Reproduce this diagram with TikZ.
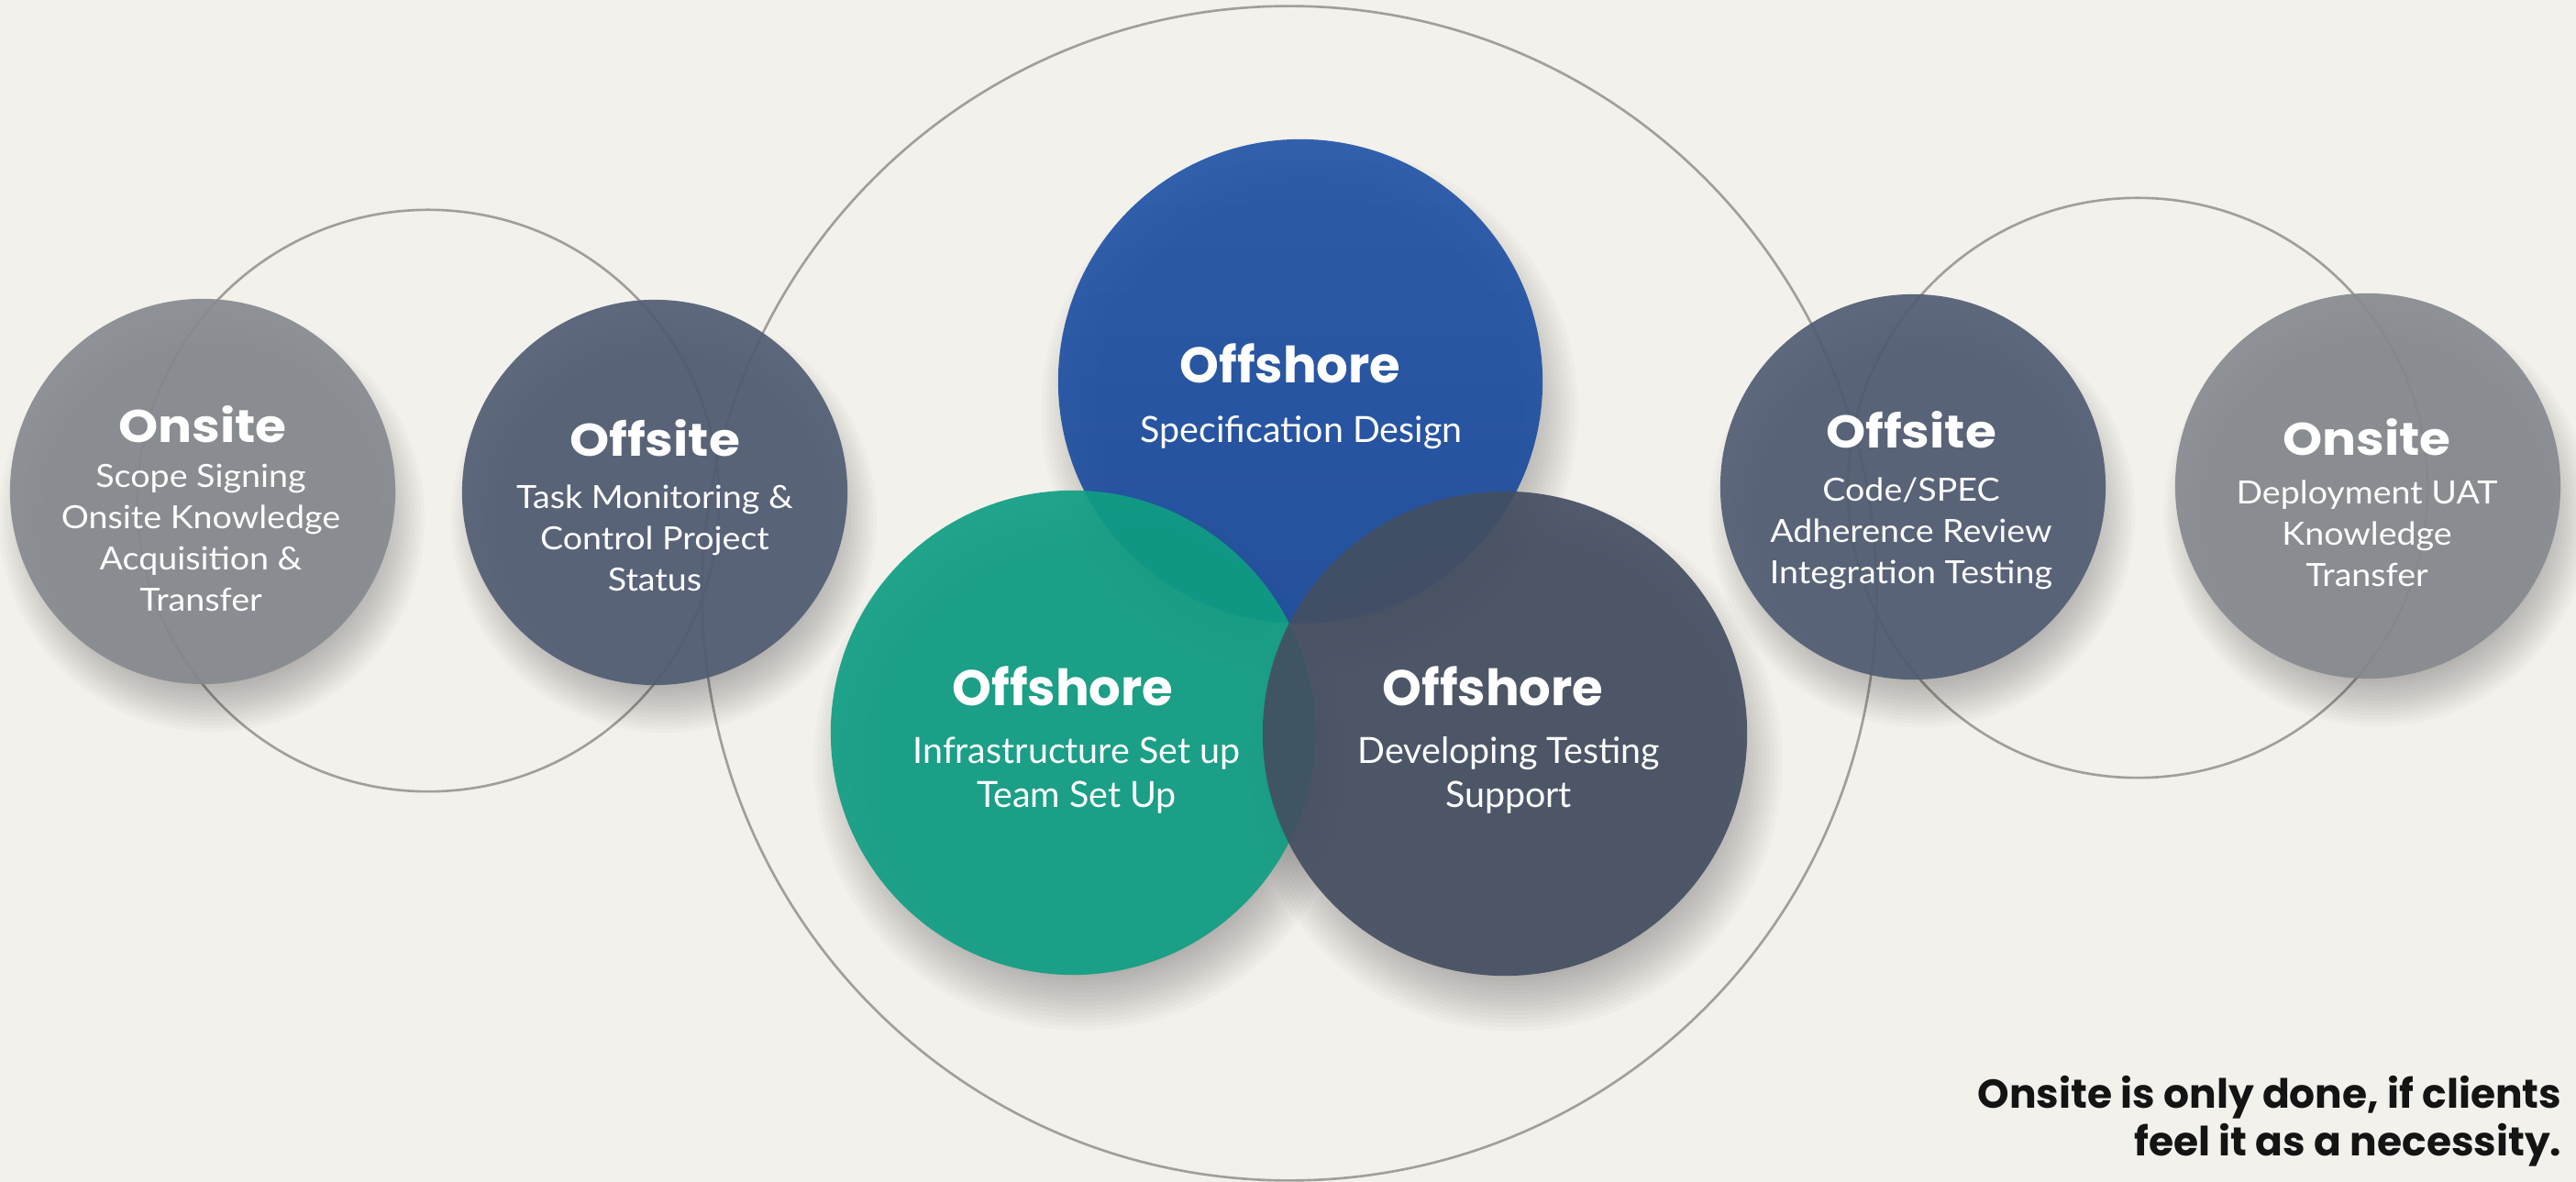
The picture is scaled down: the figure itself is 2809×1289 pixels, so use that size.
\documentclass[tikz,border=0pt]{standalone}
\usepackage{fontspec}
\setmainfont{Lato}
\newfontfamily\sidef{Lato}[FakeStretch=1.08]
\newfontfamily\titlef{Poppins}
\newfontfamily\titlesf{Poppins}[FakeStretch=1.1]
\definecolor{bgc}{HTML}{F3F1EC}
\definecolor{ringc}{HTML}{A29E9A}
\definecolor{onc}{HTML}{868A8F}
\definecolor{offc}{HTML}{515D74}
\definecolor{blueT}{HTML}{2254A7}
\definecolor{blueB}{HTML}{19499B}
\definecolor{tealc}{HTML}{0F9E83}
\definecolor{darkc}{HTML}{444F62}
\definecolor{notec}{HTML}{141414}
\begin{document}
\begin{tikzpicture}[x=0.01cm,y=-0.01cm,
  ring/.style={draw=ringc,line width=0.75pt},
  shd/.style={fill=black,fill opacity=0.021,draw=none},
  disc/.style={circle,inner sep=0pt,minimum size=#1,fill opacity=0.92,draw=none},
  ttl/.style={text=white,font=\titlef\bfseries\fontsize{15.5}{18}\selectfont,anchor=base,inner sep=0pt},
  ttls/.style={text=white,font=\titlesf\bfseries\fontsize{14.2}{17}\selectfont,anchor=base,inner sep=0pt},
  bodyc/.style={text=white,font=\fontsize{11.2}{13}\selectfont,anchor=base,inner sep=0pt},
  bodys/.style={text=white,font=\sidef\fontsize{9.9}{12}\selectfont,anchor=base,inner sep=0pt},
  note/.style={text=notec,font=\titlef\bfseries\fontsize{12.5}{15}\selectfont,anchor=base east,inner sep=0pt}]
\fill[bgc] (0,0) rectangle (2809,1289);
\useasboundingbox (0,0) rectangle (2809,1289);
% centres
\coordinate (pOnL) at (221,536);
\coordinate (pOffL) at (714,537);
\coordinate (pOffR) at (2086,531);
\coordinate (pOnR) at (2582,530);
\coordinate (pB) at (1418,416);
\coordinate (pT) at (1170,799);
\coordinate (pD) at (1641,800);
% outline rings
\draw[ring] (1406,647) circle[radius=6.40cm];
\draw[ring] (467,546) circle[radius=3.17cm];
\draw[ring] (2331,532) circle[radius=3.16cm];
% soft shadows (stacked translucent discs, offset downwards)
\foreach \p in {pOnL,pOffL,pOffR,pOnR}
  \foreach \k in {0,...,13}
    \fill[shd] ([shift={(10,30)}]\p) circle[radius={(1.80+0.04*\k)*1cm}];
\foreach \p in {pB,pT,pD}
  \foreach \k in {0,...,13}
    \fill[shd] ([shift={(10,32)}]\p) circle[radius={(2.34+0.045*\k)*1cm}];
% discs
\node[disc=4.2cm,fill=onc] (onL) at (pOnL) {};
\node[disc=4.2cm,fill=offc] (offL) at (pOffL) {};
\node[disc=4.2cm,fill=offc] (offR) at (pOffR) {};
\node[disc=4.2cm,fill=onc] (onR) at (pOnR) {};
\node[disc=5.28cm,top color=blueT,bottom color=blueB] (blue) at (pB) {};
\node[disc=5.28cm,fill=tealc] (teal) at (pT) {};
\node[disc=5.28cm,fill=darkc] (dark) at (pD) {};
% texts: Onsite left
\node[ttls] (onLt) at (221,483) {Onsite};
\foreach \t [count=\k] in {Scope Signing,Onsite Knowledge,Acquisition \&,Transfer}
  \node[bodys] (onLb\k) at (219,{532+45*(\k-1)}) {\t};
% Offsite left
\node[ttls] (offLt) at (714,498) {Offsite};
\foreach \t [count=\k] in {Task Monitoring \&,Control Project,Status}
  \node[bodys] (offLb\k) at (714,{555+45*(\k-1)}) {\t};
% Offshore blue
\node[ttl] (blueT) at (1407,418) {Offshore};
\node[bodyc] (blueB1) at (1419,483) {Specification Design};
% Offshore teal
\node[ttl] (tealT) at (1159,770) {Offshore};
\foreach \t [count=\k] in {Infrastructure Set up,Team Set Up}
  \node[bodyc] (tealB\k) at (1174,{833+48*(\k-1)}) {\t};
% Offshore dark
\node[ttl] (darkT) at (1628,770) {Offshore};
\foreach \t [count=\k] in {Developing Testing,Support}
  \node[bodyc] (darkB\k) at (1645,{833+48*(\k-1)}) {\t};
% Offsite right
\node[ttls] (offRt) at (2084,489) {Offsite};
\foreach \t [count=\k] in {Code/SPEC,Adherence Review,Integration Testing}
  \node[bodys] (offRb\k) at (2084,{547+45*(\k-1)}) {\t};
% Onsite right
\node[ttls] (onRt) at (2581,497) {Onsite};
\foreach \t [count=\k] in {Deployment UAT,Knowledge,Transfer}
  \node[bodys] (onRb\k) at (2581,{550+45*(\k-1)}) {\t};
% note
\node[note] (note1) at (2794,1208) {Onsite is only done, if clients};
\node[note] (note2) at (2794,1260) {feel it as a necessity.};
\end{tikzpicture}
\end{document}
